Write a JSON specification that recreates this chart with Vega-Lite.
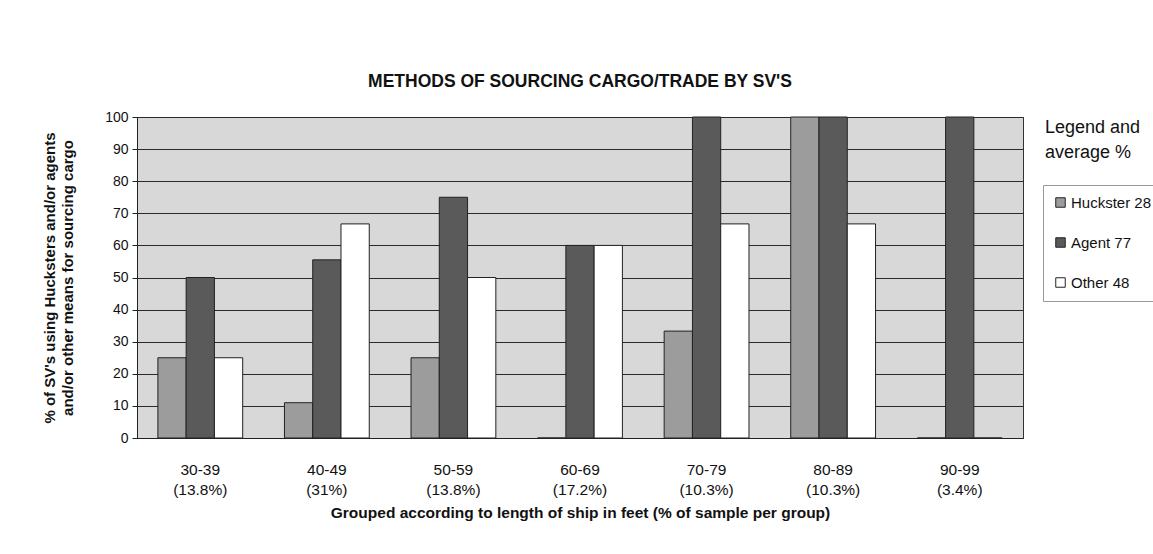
{
  "$schema": "https://vega.github.io/schema/vega-lite/v6.json",
  "width": 886,
  "height": 321,
  "autosize": "none",
  "padding": {"left": 137, "top": 117, "right": 130, "bottom": 116},
  "background": "white",
  "title": {
    "text": "METHODS OF SOURCING CARGO/TRADE BY SV'S",
    "font": "Liberation Sans",
    "fontSize": 17.5,
    "fontWeight": "bold",
    "color": "#111",
    "offset": 20,
    "anchor": "middle"
  },
  "config": {
    "font": "Liberation Sans",
    "view": {"fill": "#d8d8d8", "stroke": "#333", "strokeWidth": 1}
  },
  "data": {
    "values": [
      {"group": "30-39|(13.8%)", "method": "Huckster 28", "value": 25},
      {"group": "30-39|(13.8%)", "method": "Agent 77", "value": 50},
      {"group": "30-39|(13.8%)", "method": "Other 48", "value": 25},
      {"group": "40-49|(31%)", "method": "Huckster 28", "value": 11},
      {"group": "40-49|(31%)", "method": "Agent 77", "value": 55.5},
      {"group": "40-49|(31%)", "method": "Other 48", "value": 66.7},
      {"group": "50-59|(13.8%)", "method": "Huckster 28", "value": 25},
      {"group": "50-59|(13.8%)", "method": "Agent 77", "value": 75},
      {"group": "50-59|(13.8%)", "method": "Other 48", "value": 50},
      {"group": "60-69|(17.2%)", "method": "Huckster 28", "value": 0},
      {"group": "60-69|(17.2%)", "method": "Agent 77", "value": 60},
      {"group": "60-69|(17.2%)", "method": "Other 48", "value": 60},
      {"group": "70-79|(10.3%)", "method": "Huckster 28", "value": 33.3},
      {"group": "70-79|(10.3%)", "method": "Agent 77", "value": 100},
      {"group": "70-79|(10.3%)", "method": "Other 48", "value": 66.7},
      {"group": "80-89|(10.3%)", "method": "Huckster 28", "value": 100},
      {"group": "80-89|(10.3%)", "method": "Agent 77", "value": 100},
      {"group": "80-89|(10.3%)", "method": "Other 48", "value": 66.7},
      {"group": "90-99|(3.4%)", "method": "Huckster 28", "value": 0},
      {"group": "90-99|(3.4%)", "method": "Agent 77", "value": 100},
      {"group": "90-99|(3.4%)", "method": "Other 48", "value": 0}
    ]
  },
  "mark": {"type": "bar", "stroke": "#222", "strokeWidth": 1},
  "encoding": {
    "x": {
      "field": "group",
      "type": "nominal",
      "sort": null,
      "scale": {"paddingInner": 0.33, "paddingOuter": 0.165},
      "axis": {
        "labelExpr": "split(datum.value, '|')",
        "labelAngle": 0,
        "labelFontSize": 15.5,
        "labelColor": "#111",
        "labelLineHeight": 20,
        "labelPadding": 24,
        "ticks": false,
        "domainColor": "#222",
        "title": "Grouped according to length of ship in feet (% of sample per group)",
        "titleFontSize": 15.5,
        "titleFontWeight": "bold",
        "titleColor": "#111",
        "titlePadding": 8
      }
    },
    "xOffset": {"field": "method", "type": "nominal", "sort": ["Huckster 28", "Agent 77", "Other 48"]},
    "y": {
      "field": "value",
      "type": "quantitative",
      "scale": {"domain": [0, 100], "nice": false},
      "axis": {
        "values": [0, 10, 20, 30, 40, 50, 60, 70, 80, 90, 100],
        "grid": true,
        "gridColor": "#2a2a2a",
        "gridWidth": 1,
        "domainColor": "#222",
        "tickColor": "#222",
        "tickSize": 5,
        "labelFontSize": 14,
        "labelColor": "#111",
        "labelPadding": 4,
        "title": ["% of SV's using Hucksters and/or agents", "and/or other means for sourcing cargo"],
        "titleFontSize": 15,
        "titleFontWeight": "bold",
        "titleColor": "#111",
        "titlePadding": 29,
        "titleLineHeight": 18
      }
    },
    "color": {
      "field": "method",
      "type": "nominal",
      "sort": ["Huckster 28", "Agent 77", "Other 48"],
      "scale": {"domain": ["Huckster 28", "Agent 77", "Other 48"], "range": ["#9c9c9c", "#5a5a5a", "#ffffff"]},
      "legend": {
        "orient": "none",
        "legendX": 906,
        "legendY": 68,
        "title": null,
        "symbolType": "square",
        "symbolSize": 90,
        "symbolStrokeColor": "#222",
        "symbolStrokeWidth": 1,
        "symbolOpacity": 1,
        "labelFontSize": 15,
        "labelColor": "#111",
        "labelOffset": 3,
        "rowPadding": 24,
        "padding": 10,
        "strokeColor": "#999",
        "fillColor": "white"
      }
    },
    "opacity": {
      "datum": "t",
      "type": "ordinal",
      "scale": {"range": [1]},
      "legend": {
        "orient": "none",
        "legendX": 908,
        "legendY": 2,
        "title": ["Legend and", "average %"],
        "titleFontSize": 18,
        "titleFontWeight": "normal",
        "titleColor": "#111",
        "titleLineHeight": 25,
        "labelExpr": "''",
        "symbolType": "circle",
        "symbolSize": 0,
        "symbolOpacity": 0,
        "symbolFillColor": "transparent",
        "symbolStrokeColor": "transparent",
        "symbolStrokeWidth": 0
      }
    }
  }
}
